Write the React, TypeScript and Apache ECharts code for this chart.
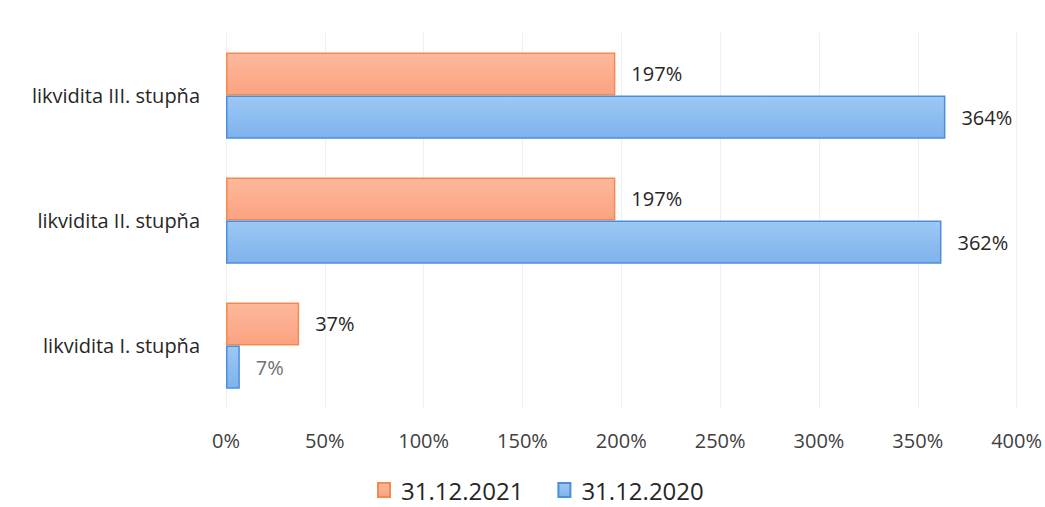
import React, { useEffect, useRef } from "react";
import * as echarts from "echarts";

const categories = ["likvidita I. stupňa", "likvidita II. stupňa", "likvidita III. stupňa"];
const series2021 = [37, 197, 197];
const series2020 = [7, 362, 364];
const seriesNames = ["31.12.2021", "31.12.2020"];
const xTicks = { min: 0, max: 400, interval: 50 };

export default function App() {
  const ref = useRef<HTMLDivElement>(null);
  useEffect(() => {
    if (!ref.current) return;
    const chart = echarts.init(ref.current, null, { renderer: "svg" });
    const font = "'Open Sans', 'Noto Sans', sans-serif";
    const orangeFill = new echarts.graphic.LinearGradient(0, 0, 0, 1, [
      { offset: 0, color: "#FDB89C" },
      { offset: 1, color: "#FBA380" },
    ]);
    const blueFill = new echarts.graphic.LinearGradient(0, 0, 0, 1, [
      { offset: 0, color: "#9CC8F4" },
      { offset: 1, color: "#7FB3EC" },
    ]);
    const labelStyle = {
      show: true,
      position: "right",
      distance: 16,
      formatter: "{c}%",
      fontSize: 20,
      fontFamily: font,
      color: "#262626",
    };
    chart.setOption({
      animation: false,
      backgroundColor: "#ffffff",
      grid: { left: 226, right: 28, top: 33, bottom: 99, containLabel: false },
      legend: {
        data: seriesNames,
        bottom: 0,
        left: 372,
        icon: "rect",
        itemWidth: 12,
        itemHeight: 14,
        itemGap: 34,
        textStyle: { fontSize: 24, fontFamily: font, color: "#262626", padding: [0, 0, 0, 6] },
      },
      xAxis: {
        type: "value",
        min: xTicks.min,
        max: xTicks.max,
        interval: xTicks.interval,
        axisLine: { show: false },
        axisTick: { show: false },
        splitLine: { show: true, lineStyle: { color: "#f0f0f0", width: 1 } },
        axisLabel: {
          formatter: "{value}%",
          fontSize: 20,
          fontFamily: font,
          color: "#404040",
          margin: 22,
        },
      },
      yAxis: {
        type: "category",
        data: categories,
        axisLine: { show: false },
        axisTick: { show: false },
        axisLabel: { fontSize: 20, fontFamily: font, color: "#262626", margin: 26 },
      },
      series: [
        {
          name: seriesNames[0],
          type: "bar",
          data: series2021,
          barGap: "0%",
          barCategoryGap: "31%",
          itemStyle: { color: orangeFill, borderColor: "#F58A4E", borderWidth: 1.5 },
          label: labelStyle,
        },
        {
          name: seriesNames[1],
          type: "bar",
          data: series2020.map((v, i) =>
            i === 0 ? { value: v, label: { color: "#707070" } } : v
          ),
          barGap: "0%",
          barCategoryGap: "31%",
          itemStyle: { color: blueFill, borderColor: "#4A8FDB", borderWidth: 1.5 },
          label: labelStyle,
        },
      ],
    });
    return () => chart.dispose();
  }, []);
  return (
    <div
      ref={ref}
      style={{ position: "fixed", left: 0, top: 0, width: 1045, height: 507 }}
    />
  );
}
